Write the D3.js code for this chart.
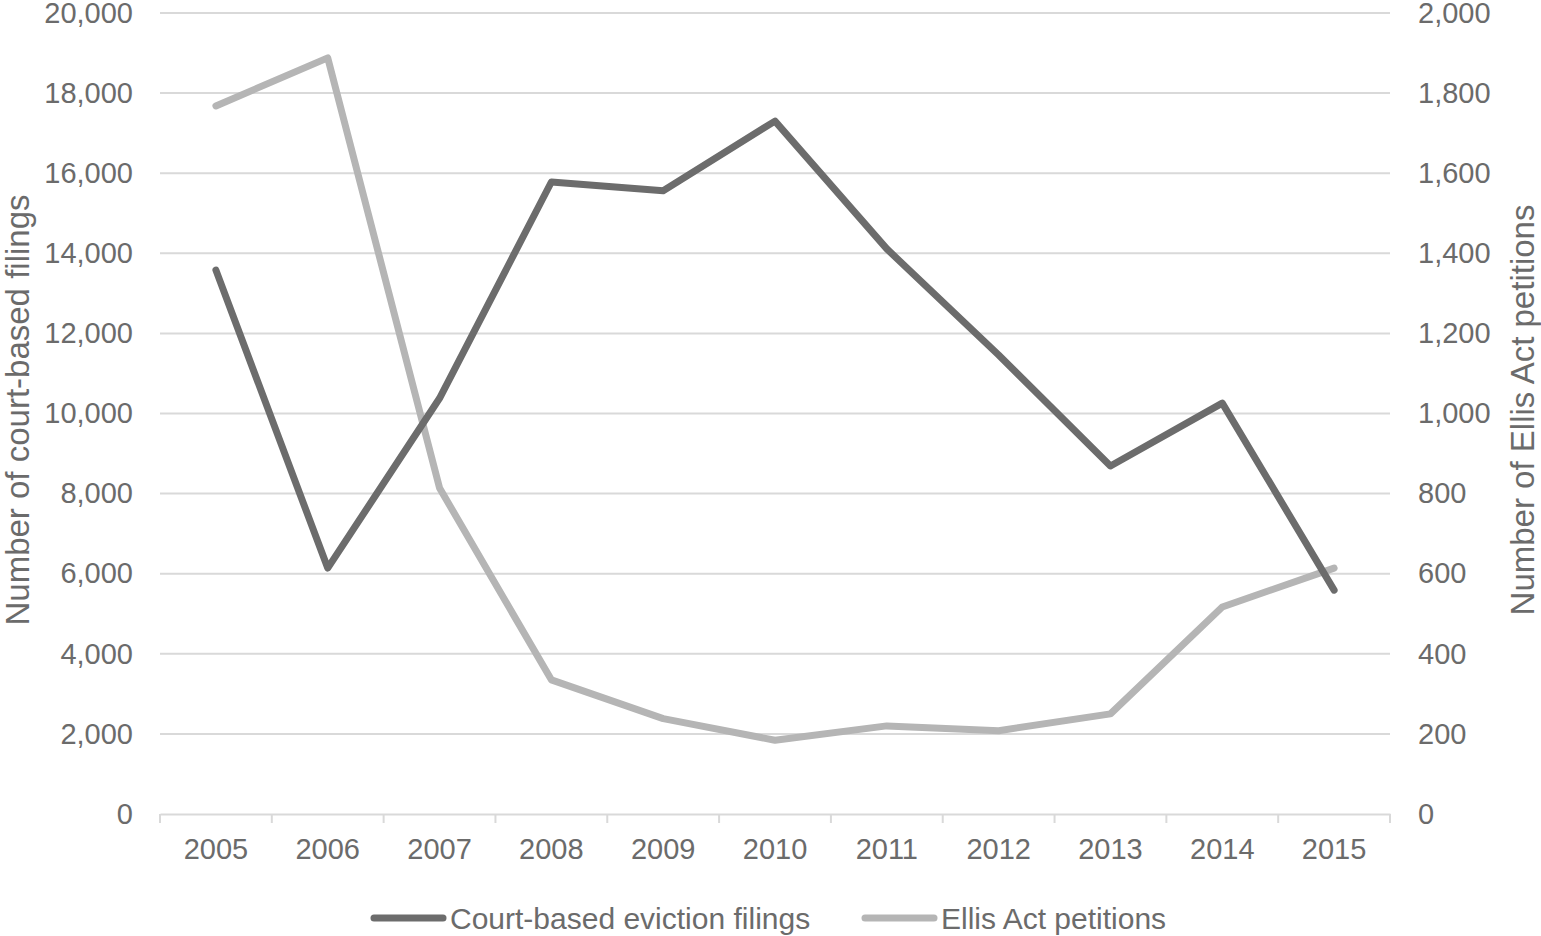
<!DOCTYPE html>
<html><head><meta charset="utf-8">
<script src="https://cdn.jsdelivr.net/npm/d3@7"></script>
<style>body{margin:0;background:#fff;}svg{display:block;font-family:"Liberation Sans",Arial,sans-serif;}</style>
</head><body>
<svg id="c" width="1541" height="936"></svg>
<script>
const years = ["2005","2006","2007","2008","2009","2010","2011","2012","2013","2014","2015"];
const courtFilings = [13580, 6140, 10380, 15780, 15560, 17300, 14110, 11460, 8690, 10260, 5590];
const ellisPetitions = [1768, 1888, 814, 335, 238, 184, 220, 208, 250, 517, 614];
const leftTicks = [0,2000,4000,6000,8000,10000,12000,14000,16000,18000,20000];
const rightTicks = [0,200,400,600,800,1000,1200,1400,1600,1800,2000];
const seriesNames = ["Court-based eviction filings","Ellis Act petitions"];

const svg = d3.select("#c");
const L = 160, R = 1390, T = 13, B = 814;
const textCol = "#6b6b6b", gridCol = "#d9d9d9";
const darkCol = "#6c6c6c", lightCol = "#b5b5b5";
const tickFont = 29;

const x = d3.scaleBand().domain(years).range([L, R]);
const yL = d3.scaleLinear().domain([0, 20000]).range([B, T]);
const yR = d3.scaleLinear().domain([0, 2000]).range([B, T]);
const fmt = d3.format(",");

// gridlines
svg.append("g").selectAll("line").data(leftTicks.slice(1)).join("line")
  .attr("x1", L).attr("x2", R).attr("y1", d => yL(d)).attr("y2", d => yL(d))
  .attr("stroke", gridCol).attr("stroke-width", 2);

// x axis
const xa = svg.append("g").attr("transform", `translate(0,${B})`)
  .call(d3.axisBottom(x).tickSize(0).tickPadding(24).tickFormat(d => d));
xa.select(".domain").attr("stroke", gridCol).attr("stroke-width", 2);
xa.selectAll("text").attr("fill", textCol).attr("font-size", tickFont).attr("font-family", "Liberation Sans");
// category separators
svg.append("g").selectAll("line").data(years.concat(["end"])).join("line")
  .attr("x1", (d,i) => L + i * x.step()).attr("x2", (d,i) => L + i * x.step())
  .attr("y1", B).attr("y2", B + 9).attr("stroke", gridCol).attr("stroke-width", 2);

// left axis
const la = svg.append("g").attr("transform", `translate(${L},0)`)
  .call(d3.axisLeft(yL).tickValues(leftTicks).tickSize(0).tickPadding(27).tickFormat(fmt));
la.select(".domain").remove();
la.selectAll("text").attr("fill", textCol).attr("font-size", tickFont).attr("font-family", "Liberation Sans");

// right axis
const ra = svg.append("g").attr("transform", `translate(${R},0)`)
  .call(d3.axisRight(yR).tickValues(rightTicks).tickSize(0).tickPadding(28).tickFormat(fmt));
ra.select(".domain").remove();
ra.selectAll("text").attr("fill", textCol).attr("font-size", tickFont).attr("font-family", "Liberation Sans");

// axis titles
svg.append("text").attr("transform", `translate(29,410) rotate(-90)`)
  .attr("text-anchor", "middle").attr("fill", textCol).attr("font-size", 33)
  .text("Number of court-based filings");
svg.append("text").attr("transform", `translate(1534,410) rotate(-90)`)
  .attr("text-anchor", "middle").attr("fill", textCol).attr("font-size", 33)
  .text("Number of Ellis Act petitions");

// lines
const cx = d => x(d) + x.bandwidth() / 2;
const lineL = d3.line().x((d,i) => cx(years[i])).y(d => yL(d));
const lineR = d3.line().x((d,i) => cx(years[i])).y(d => yR(d));
svg.append("path").datum(ellisPetitions).attr("d", lineR)
  .attr("fill", "none").attr("stroke", lightCol).attr("stroke-width", 7).attr("stroke-linejoin", "round").attr("stroke-linecap", "round");
svg.append("path").datum(courtFilings).attr("d", lineL)
  .attr("fill", "none").attr("stroke", darkCol).attr("stroke-width", 7).attr("stroke-linejoin", "round").attr("stroke-linecap", "round");

// legend
const legY = 918;
const leg = [{name: seriesNames[0], col: darkCol, x0: 374}, {name: seriesNames[1], col: lightCol, x0: 865}];
leg.forEach(l => {
  svg.append("line").attr("x1", l.x0).attr("x2", l.x0 + 69).attr("y1", legY).attr("y2", legY)
    .attr("stroke", l.col).attr("stroke-width", 7).attr("stroke-linecap", "round");
  svg.append("text").attr("x", l.x0 + 76).attr("y", legY + 11).attr("fill", textCol)
    .attr("font-size", 30).text(l.name);
});
</script>
</body></html>
